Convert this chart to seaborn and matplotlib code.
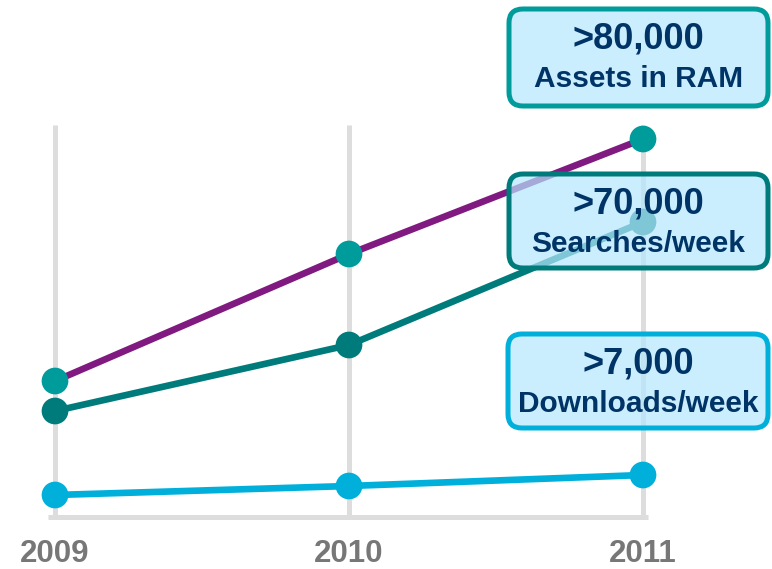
import pandas as pd
import matplotlib.pyplot as plt
import seaborn as sns
from matplotlib.patches import FancyBboxPatch

# Values (relative heights above the baseline)
years = [2009, 2010, 2011]
assets = [136, 263, 378]
searches = [106, 172, 295]
downloads = [22, 31, 42]

series_names = ["Assets in RAM", "Searches/week", "Downloads/week"]
big_labels = [">80,000", ">70,000", ">7,000"]

line_colors = ["#801a80", "#007b7b", "#00b0da"]
marker_colors = ["#009b9b", "#007b7b", "#00b0da"]
box_edges = ["#009b9b", "#007b7b", "#00b0da"]

df = pd.DataFrame({
    "year": years * 3,
    "value": assets + searches + downloads,
    "series": [s for s in series_names for _ in years],
})

sns.set_style("white")
plt.rcParams["font.family"] = ["Liberation Sans", "DejaVu Sans"]

W, H = 772, 569
fig = plt.figure(figsize=(W / 100, H / 100), dpi=100)
base = 517
ax = fig.add_axes([0, (H - base) / H, 1, base / H])
px = 1 / 294  # years per pixel
ax.set_xlim(2009 - 55 * px, 2011 + (W - 643) * px)
ax.set_ylim(0, base)

# grid lines and baseline
for yr in years:
    ax.plot([yr, yr], [0, base - 125], color="#dddddd", lw=3.6, zorder=1,
            solid_capstyle="butt")
ax.plot([2009 - 7 * px, 2011 + 5 * px], [0, 0], color="#dddddd", lw=3.6,
        zorder=1, solid_capstyle="butt", clip_on=False)

sns.lineplot(data=df, x="year", y="value", hue="series",
             palette=dict(zip(series_names, line_colors)), lw=4.8,
             legend=False, ax=ax, zorder=2)
sns.scatterplot(data=df, x="year", y="value", hue="series",
                palette=dict(zip(series_names, marker_colors)), s=370,
                edgecolor="none", legend=False, ax=ax, zorder=3, clip_on=False)

for coll in ax.collections:
    coll.set_clip_on(False)

ax.set_xticks(years)
ax.set_xticklabels([str(y) for y in years], fontsize=22.5, fontweight="bold",
                   color="#777777")
ax.tick_params(axis="x", length=0, pad=16)
ax.set_yticks([])
ax.set_xlabel("")
ax.set_ylabel("")
for sp in ax.spines.values():
    sp.set_visible(False)

# label boxes (figure pixel coordinates, top-left origin)
boxes = [(509, 9, 259, 97), (509, 174, 259, 94), (508, 334, 260, 94)]
for (bx, by, bw, bh), edge, big, small in zip(boxes, box_edges, big_labels,
                                               series_names):
    patch = FancyBboxPatch(
        (bx / W, 1 - (by + bh) / H), bw / W, bh / H,
        boxstyle="round,pad=0,rounding_size=0.018",
        transform=fig.transFigure, facecolor=(182 / 255, 231 / 255, 1.0, 0.7),
        edgecolor=edge, lw=3.6, zorder=10, mutation_aspect=W / H)
    fig.add_artist(patch)
    cx = (bx + bw / 2) / W
    fig.text(cx, 1 - (by + 30) / H, big, ha="center", va="center",
             fontsize=26, fontweight="bold", color="#003366", zorder=11)
    fig.text(cx, 1 - (by + 70) / H, small, ha="center", va="center",
             fontsize=21.5, fontweight="bold", color="#003366", zorder=11)

fig.savefig("out.png", dpi=100)
